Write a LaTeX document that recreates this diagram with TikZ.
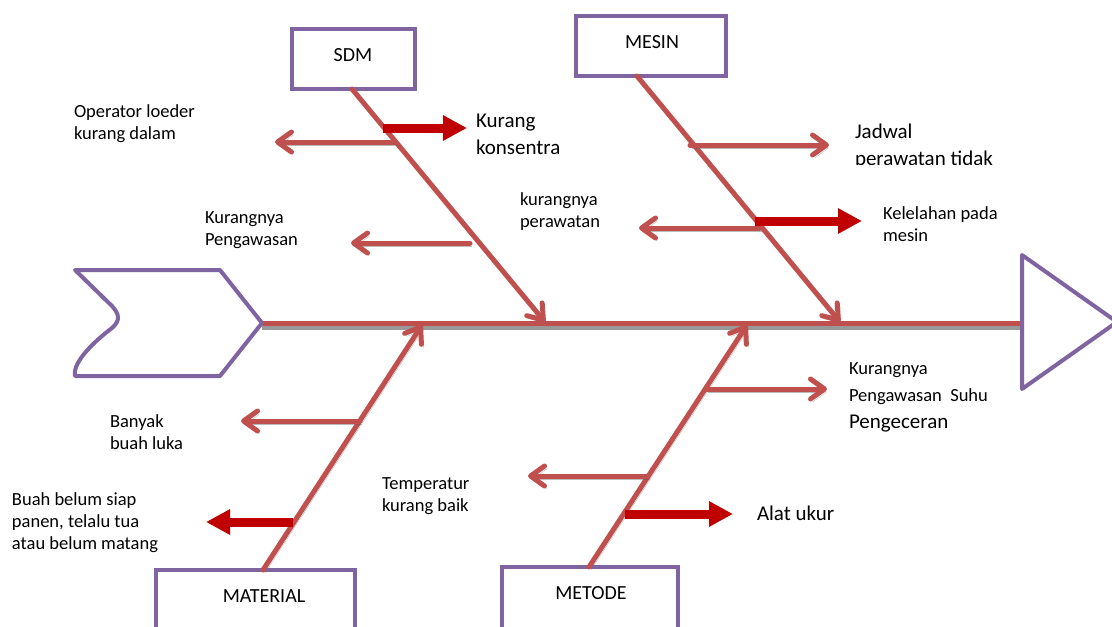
\documentclass[tikz,border=0pt]{standalone}
\usepackage{fontspec}
\setmainfont{Carlito}
\usetikzlibrary{arrows.meta}
\definecolor{fbpurple}{HTML}{8064A2}
\definecolor{fbred}{HTML}{C0504D}
\definecolor{fbdark}{HTML}{C00000}
\begin{document}
\begin{tikzpicture}[x=1pt,y=-1pt,
  every node/.style={inner sep=0pt,outer sep=0pt},
  catbox/.style={draw=fbpurple,line width=4.5pt,fill=white},
  boxlabel/.style={font=\fontsize{20}{24}\selectfont,anchor=base},
  smalltxt/.style={font=\fontsize{18.5}{22}\selectfont,align=left,anchor=base west},
  bigtxt/.style={font=\fontsize{21}{27}\selectfont,align=left,anchor=base west},
  shade/.style={preaction={draw=black!60,opacity=0.45,transform canvas={shift={(2,3)}}}},
  bone/.style={shade,draw=fbred,line width=5pt,line cap=round,-{Straight Barb[length=14pt,width=20pt,round]}},
  subbone/.style={shade,draw=fbred,line width=5pt,line cap=round,-{Straight Barb[length=14pt,width=20pt,round]}},
  darkarrow/.style={draw=fbdark,line width=9pt,-{Triangle[length=24pt,width=24pt]}},
  outline/.style={draw=fbpurple,line width=4pt,line join=round,line cap=round}
]
\clip (0,0) rectangle (1112,627);
\fill[white] (0,0) rectangle (1112,627);

% ---- spine ----
\coordinate (tailtip) at (262,323);
\coordinate (headbase) at (1022,323);
\draw[black!40,line width=4.5pt] ([shift={(0,4.5)}]tailtip) -- ([shift={(0,4.5)}]headbase);
\draw[fbred,line width=5pt] (tailtip) -- (headbase);

% ---- tail ----
\draw[outline] (75,270) -- (220,270) -- (tailtip) -- (220,376) -- (75,376)
  .. controls (72,362) and (96,340) .. (112,328)
  .. controls (121,320) and (119,314) .. (112,306) -- cycle;

% ---- head ----
\draw[outline] (1022,255) -- (1117,322) -- (1022,389) -- cycle;

% ---- category boxes ----
\node[catbox,minimum width=123pt,minimum height=60pt] (sdm) at (353.5,59) {};
\node[boxlabel] (sdmlabel) at (353,61) {SDM};
\node[catbox,minimum width=150pt,minimum height=60pt] (mesin) at (651,46) {};
\node[boxlabel] (mesinlabel) at (652,48) {MESIN};
\node[catbox,minimum width=199pt,minimum height=90pt] (material) at (255.5,615) {};
\node[boxlabel] (materiallabel) at (264,602) {MATERIAL};
\node[catbox,minimum width=176pt,minimum height=93pt] (metode) at (590,613.5) {};
\node[boxlabel] (metodelabel) at (591,599) {METODE};

% ---- main bones ----
\coordinate (sdmS) at (352,89);   \coordinate (sdmE) at (545,322);
\coordinate (mesS) at (637,76);   \coordinate (mesE) at (840,322);
\coordinate (matS) at (263,570);  \coordinate (matE) at (422,325);
\coordinate (metS) at (589,567);  \coordinate (metE) at (747,325);
\draw[bone] (sdmS) -- (sdmE);
\draw[bone] (mesS) -- (mesE);
\draw[bone] (matS) -- (matE);
\draw[bone] (metS) -- (metE);

% ---- sub bones ----
\coordinate (a1s) at (396,142); \coordinate (a1e) at (275,142);
\coordinate (a2s) at (470,243); \coordinate (a2e) at (351,243);
\coordinate (a3s) at (690,145); \coordinate (a3e) at (829,145);
\coordinate (a4s) at (760,228); \coordinate (a4e) at (639,228);
\coordinate (a5s) at (360,421); \coordinate (a5e) at (241,421);
\coordinate (a6s) at (706,389); \coordinate (a6e) at (827,389);
\coordinate (a7s) at (648,476); \coordinate (a7e) at (528,476);
\foreach \i in {1,...,7} {\draw[subbone] (a\i s) -- (a\i e);}

% ---- dark arrows ----
\coordinate (d1s) at (383,128); \coordinate (d1e) at (467,128);
\coordinate (d2s) at (755,221); \coordinate (d2e) at (862,221);
\coordinate (d3s) at (293,522); \coordinate (d3e) at (206,522);
\coordinate (d4s) at (625,514); \coordinate (d4e) at (733,514);
\foreach \i in {1,...,4} {\draw[darkarrow] (d\i s) -- (d\i e);}

% ---- texts (anchor = baseline of last line) ----
\node[smalltxt] (t1) at (74,139) {Operator loeder\\kurang dalam};
\node[bigtxt] (t2) at (476,154) {Kurang\\konsentra};
\node[smalltxt] (t3) at (205,245) {Kurangnya\\Pengawasan};
\node[smalltxt] (t4) at (520,227) {kurangnya\\perawatan};
\begin{scope}
  \clip (840,100) rectangle (1030,164);
  \node[bigtxt] (t5) at (855,165) {Jadwal\\perawatan tidak};
\end{scope}
\node[smalltxt] (t6) at (883,241) {Kelelahan pada\\mesin};
\node[smalltxt,font=\fontsize{18.5}{27}\selectfont] (t7) at (849,428)
  {Kurangnya\\Pengawasan\ \ Suhu\\{\fontsize{21}{27}\selectfont Pengeceran}};
\node[smalltxt] (t8) at (110,449) {Banyak\\buah luka};
\node[smalltxt] (t9) at (12,549) {Buah belum siap\\panen, telalu tua\\atau belum matang};
\node[smalltxt] (t10) at (382,511) {Temperatur\\kurang baik};
\node[bigtxt] (t11) at (757,520) {Alat ukur};
\end{tikzpicture}
\end{document}
